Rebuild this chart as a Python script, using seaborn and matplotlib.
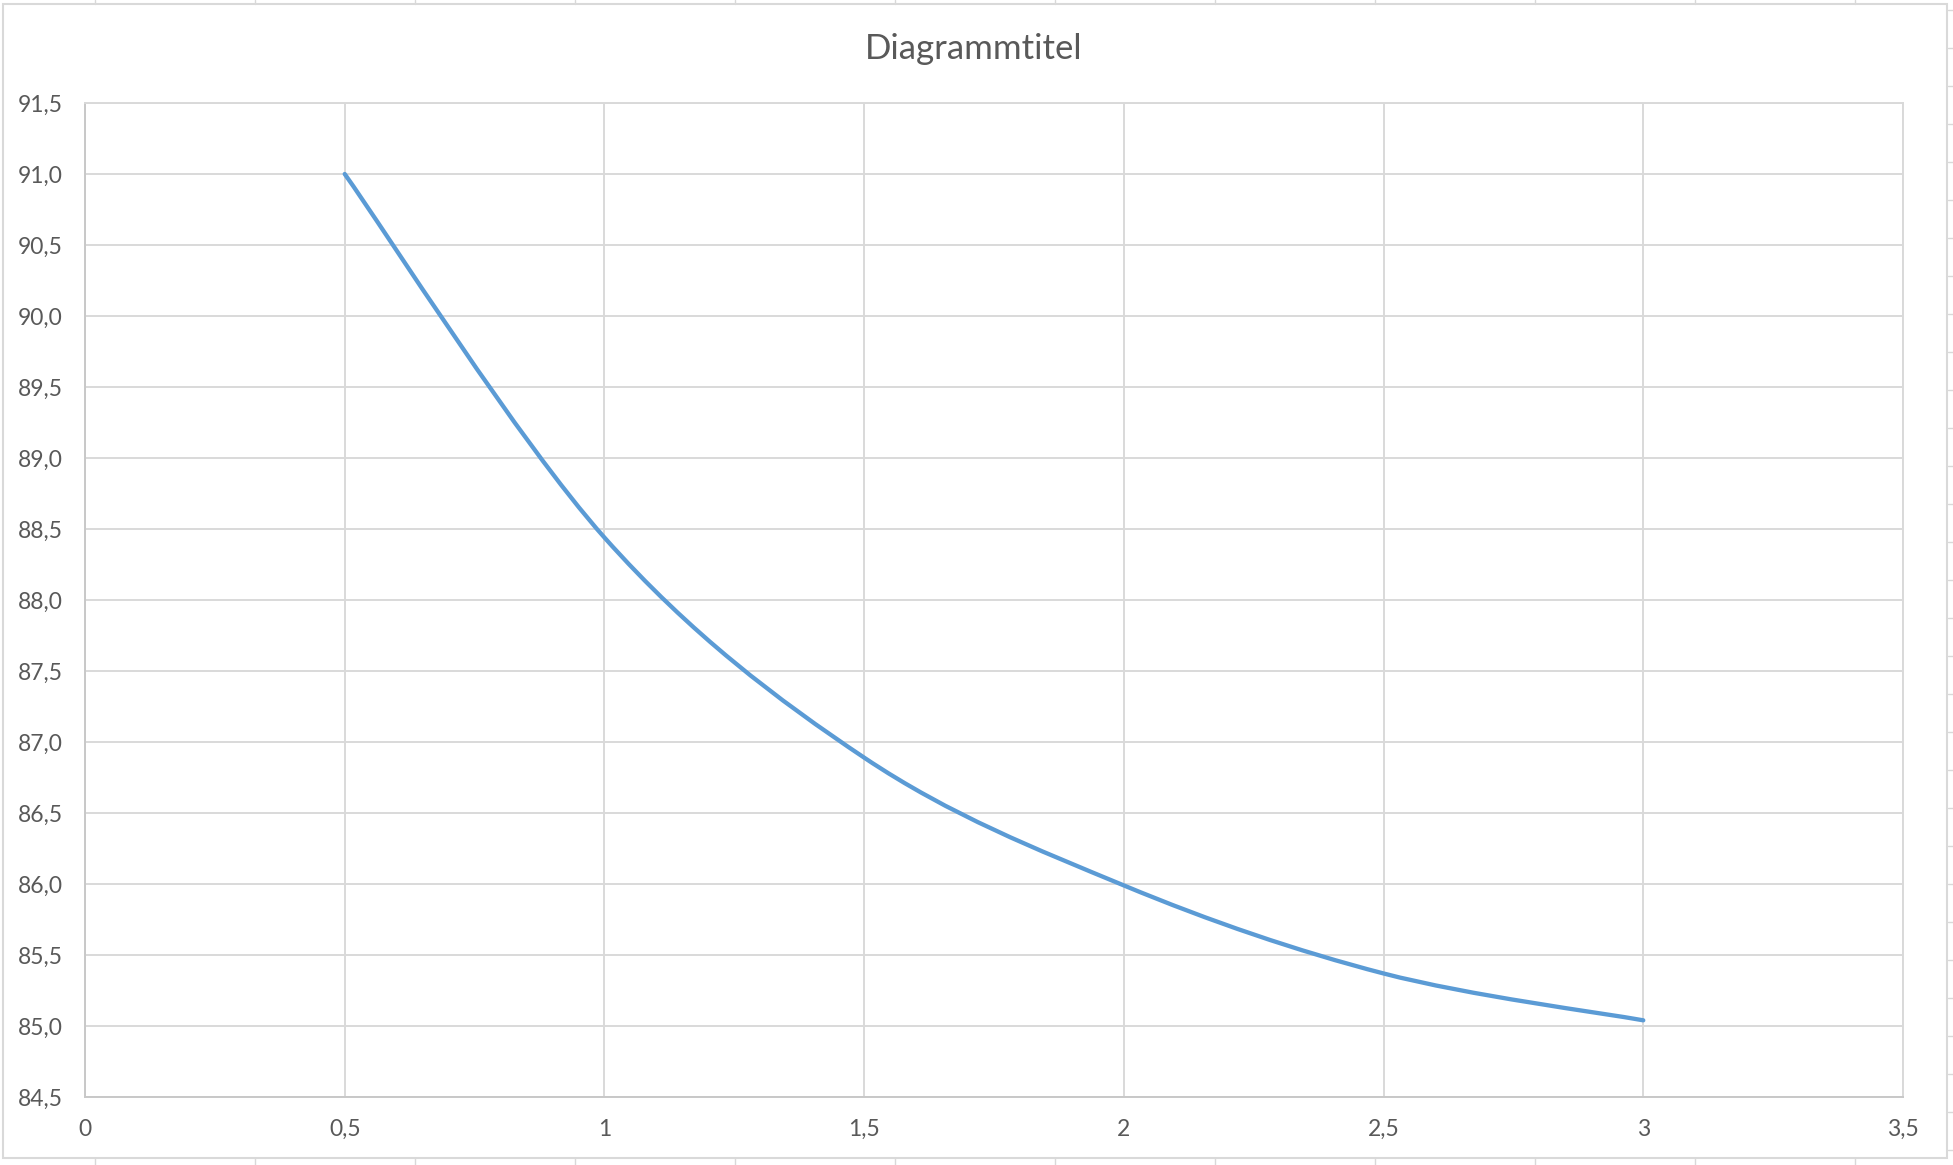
import matplotlib
matplotlib.use("Agg")
import matplotlib.pyplot as plt
import seaborn as sns
from matplotlib.path import Path
from matplotlib.patches import PathPatch, Rectangle
from matplotlib.lines import Line2D
from matplotlib.ticker import FixedLocator, FixedFormatter

# data
x_values = [0.5, 1.0, 1.5, 2.0, 2.5, 3.0]
y_values = [91.0, 88.44, 86.89, 85.99, 85.37, 85.04]

x_ticks = [0, 0.5, 1, 1.5, 2, 2.5, 3, 3.5]
x_tick_labels = ["0", "0,5", "1", "1,5", "2", "2,5", "3", "3,5"]
y_ticks = [84.5, 85.0, 85.5, 86.0, 86.5, 87.0, 87.5, 88.0, 88.5, 89.0, 89.5, 90.0, 90.5, 91.0, 91.5]
y_tick_labels = ["84,5", "85,0", "85,5", "86,0", "86,5", "87,0", "87,5", "88,0",
                 "88,5", "89,0", "89,5", "90,0", "90,5", "91,0", "91,5"]
title = "Diagrammtitel"

TEXT = "#595959"
GRID = "#D9D9D9"
LINE = "#5B9BD5"

sns.set_theme(style="whitegrid", rc={
    "grid.color": GRID,
    "grid.linewidth": 1.4,
    "axes.edgecolor": GRID,
    "axes.linewidth": 1.4,
})
plt.rcParams["font.family"] = ["Lato", "DejaVu Sans"]

W, H = 1953, 1165
fig = plt.figure(figsize=(W / 100, H / 100), dpi=100)
ax = fig.add_axes([85 / W, 1 - 1097 / H, (1903 - 85) / W, (1097 - 103) / H])


def smooth_path(xs, ys):
    # Excel-style smoothed line: cubic Bezier through the points (Catmull-Rom control points)
    pts = list(zip(xs, ys))
    n = len(pts)
    verts = [pts[0]]
    codes = [Path.MOVETO]
    for i in range(n - 1):
        p0 = pts[max(i - 1, 0)]
        p1 = pts[i]
        p2 = pts[i + 1]
        p3 = pts[min(i + 2, n - 1)]
        c1 = (p1[0] + (p2[0] - p0[0]) / 6, p1[1] + (p2[1] - p0[1]) / 6)
        c2 = (p2[0] - (p3[0] - p1[0]) / 6, p2[1] - (p3[1] - p1[1]) / 6)
        verts += [c1, c2, p2]
        codes += [Path.CURVE4] * 3
    return Path(verts, codes)


ax.add_patch(PathPatch(smooth_path(x_values, y_values), fill=False,
                       edgecolor=LINE, lw=3.1, capstyle="round", zorder=3))

ax.set_xlim(x_ticks[0], x_ticks[-1])
ax.set_ylim(y_ticks[0], y_ticks[-1])
ax.xaxis.set_major_locator(FixedLocator(x_ticks))
ax.xaxis.set_major_formatter(FixedFormatter(x_tick_labels))
ax.yaxis.set_major_locator(FixedLocator(y_ticks))
ax.yaxis.set_major_formatter(FixedFormatter(y_tick_labels))
ax.tick_params(axis="both", length=0, labelsize=16.5, labelcolor=TEXT)
ax.tick_params(axis="x", pad=16)
ax.tick_params(axis="y", pad=16)
ax.grid(True, color=GRID, lw=1.4)
for side in ["left", "bottom", "right", "top"]:
    ax.spines[side].set_color(GRID)
ax.spines["left"].set_color("#C8C8C8")
ax.spines["bottom"].set_color("#C8C8C8")
ax.set_xlabel("")
ax.set_ylabel("")

fig.text(974 / W, 1 - 49 / H, title, ha="center", va="center",
         fontsize=25, color=TEXT)

# chart area border and spreadsheet cell lines peeking out around it
fig.add_artist(Rectangle((3 / W, 1 - 1158 / H), (1947 - 3) / W, (1158 - 4) / H,
                         transform=fig.transFigure, fill=False,
                         edgecolor=GRID, lw=1.5))
for k in range(12):
    xp = (95 + 160 * k) / W
    fig.add_artist(Line2D([xp, xp], [1, 1 - 4 / H], transform=fig.transFigure,
                          color=GRID, lw=1))
    fig.add_artist(Line2D([xp, xp], [1 - 1158 / H, 0], transform=fig.transFigure,
                          color=GRID, lw=1))
for k in range(31):
    yp = 1 - (10 + 38 * k) / H
    fig.add_artist(Line2D([1948 / W, 1], [yp, yp], transform=fig.transFigure,
                          color=GRID, lw=1))

fig.savefig("out.png", dpi=100, facecolor="white")
